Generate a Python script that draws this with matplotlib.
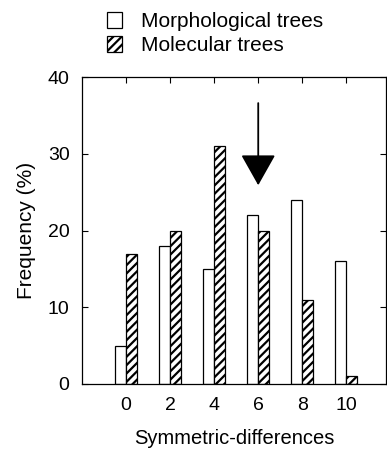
import matplotlib.pyplot as plt
import numpy as np

plt.rcParams["font.family"] = ["Liberation Sans", "DejaVu Sans"]
plt.rcParams["hatch.linewidth"] = 1.6

categories = [0, 2, 4, 6, 8, 10]
morphological = [5, 18, 15, 22, 24, 16]
molecular = [17, 20, 31, 20, 11, 1]
series_labels = ["Morphological trees", "Molecular trees"]
y_ticks = [0, 10, 20, 30, 40]

fig = plt.figure(figsize=(3.87, 4.49), dpi=100)
ax = fig.add_axes([82 / 387, 1 - 384 / 449, 304 / 387, 307 / 449])

x = np.array(categories)
w = 0.5
b1 = ax.bar(x - w / 2, morphological, width=w, color="white", edgecolor="black", linewidth=0.9)
b2 = ax.bar(x + w / 2, molecular, width=w, color="white", edgecolor="black", linewidth=0.9, hatch="////")

ax.set_xlim(-2, 11.8)
ax.set_ylim(0, 40)
ax.set_xticks(categories)
ax.set_yticks(y_ticks)
ax.tick_params(axis="both", labelsize=14, direction="in", length=4, width=0.8)
ax.tick_params(axis="x", bottom=False, top=True, pad=9)
ax.tick_params(axis="y", right=True, pad=9)
for s in ax.spines.values():
    s.set_linewidth(0.9)

ax.set_xlabel("Symmetric-differences", fontsize=14.5)
ax.xaxis.set_label_coords(0.5, -0.148)
ax.set_ylabel("Frequency (%)", fontsize=15)
ax.yaxis.set_label_coords(-0.15, 0.5)

# arrow marking the expected value
ax.annotate("", xy=(6, 25.9), xytext=(6, 36.6),
            arrowprops=dict(arrowstyle="-|>,head_length=1.95,head_width=1.1", color="black",
                            lw=1.3, shrinkA=0, shrinkB=0))

fig.legend([b1, b2], series_labels, loc="upper left", bbox_to_anchor=(88 / 387, 1 + 7 / 449),
           frameon=False, fontsize=15, handlelength=0.75, handleheight=0.8, handletextpad=0.9,
           labelspacing=0.25)

fig.savefig("out.png", dpi=100)
